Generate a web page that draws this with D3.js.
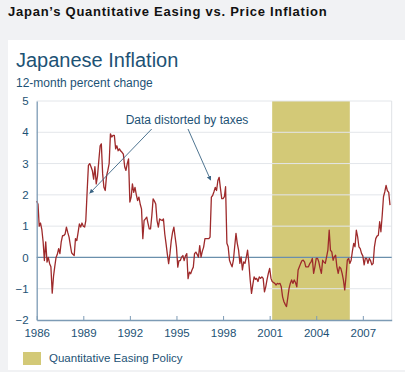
<!DOCTYPE html>
<html>
<head>
<meta charset="utf-8">
<script src="https://cdn.jsdelivr.net/npm/d3@7"></script>
<style>
body { margin: 0; background: #f1f2f4; }
svg text { font-family: "Liberation Sans", Arial, sans-serif; }
</style>
</head>
<body>
<div id="chart"></div>
<script>
// monthly 12-month % change, starting Jan 1986
var startYear = 1986
var inflation = [
  1.8, 1.7, 1.0, 1.1, 0.9, 0.5, -0.1, 0.5, -0.15, 0.0, -0.2, -0.3,
  -1.14, -0.6, -0.3, 0.0, 0.1, 0.28, 0.12, 0.5, 0.7, 0.7, 0.75, 0.97,
  0.8, 0.65, 0.4, 0.15, 0.1, 0.06, 0.6, 0.54, 0.8, 1.07, 0.97, 1.1,
  1.0, 0.97, 1.18, 2.1, 2.94, 3.0, 2.9, 2.78, 2.5, 2.9, 2.35, 2.6,
  3.1, 3.57, 3.63, 2.67, 2.24, 2.14, 2.6, 2.78, 3.0, 3.95, 3.85, 3.9,
  3.9, 3.47, 3.57, 3.41, 3.47, 3.4, 3.36, 3.3, 2.9, 2.78, 3.0, 3.15,
  1.77, 1.93, 2.35, 2.08, 2.24, 2.0, 1.82, 1.93, 1.7, 1.55, 0.6, 1.18,
  1.23, 1.29, 1.1, 0.91, 0.91, 1.34, 1.87, 1.8, 1.71, 1.18, 0.97, 1.23,
  1.2, 1.18, 1.23, 0.75, 0.44, 0.1, -0.2, 0.12, 0.54, 0.8, 0.97, 0.65,
  0.33, -0.31, -0.1, -0.1, 0.01, 0.06, -0.1, 0.05, 0.12, -0.68, -0.47, -0.52,
  -0.4, -0.31, 0.12, 0.17, 0.1, 0.01, 0.38, 0.01, 0.2, 0.33, 0.6, 0.6,
  0.6, 0.6, 0.65, 1.93, 1.98, 2.1, 2.24, 2.14, 2.46, 2.56, 2.2, 1.88,
  1.88, 1.94, 2.26, 0.45, 0.34, -0.09, -0.2, -0.3, -0.09, 0.34, 0.77, 0.45,
  0.23, -0.19, 0.02, -0.4, -0.14, -0.19, 0.0, 0.23, -0.19, -0.72, -1.15, -0.88,
  -0.62, -0.7, -0.67, -0.77, -0.62, -0.67, -0.62, -0.67, -1.1, -0.94, -0.7, -0.51,
  -0.35, -0.67, -0.77, -0.8, -0.83, -0.88, -0.83, -0.85, -0.83, -0.94, -1.26, -1.41,
  -1.5, -1.57, -1.31, -1.0, -0.83, -0.72, -0.83, -0.72, -0.8, -0.94, -0.4, -0.3,
  -0.19, -0.1, -0.09, -0.14, -0.3, -0.3, -0.3, -0.2, -0.14, -0.03, -0.51, -0.3,
  -0.03, -0.03, -0.14, -0.35, -0.51, -0.09, -0.15, -0.19, 0.02, 0.23, 0.87, 0.23,
  0.18, -0.09, 0.02, 0.07, -0.3, -0.51, -0.3, -0.35, -0.51, -0.72, -1.04, -0.62,
  -0.09, -0.03, -0.19, -0.09, 0.2, 0.45, 0.34, 0.87, 0.66, 0.34, 0.28, 0.13,
  0.05, -0.24, -0.03, -0.03, -0.19, -0.03, -0.1, -0.24, -0.19, 0.34, 0.6, 0.68,
  0.71, 1.14, 0.82, 1.35, 1.94, 2.1, 2.3, 2.13, 2.08, 1.67
]
var yTicks = [-2, -1, 0, 1, 2, 3, 4, 5]
var xTickYears = [1986, 1989, 1992, 1995, 1998, 2001, 2004, 2007]
var qePeriod = [new Date(2001, 2, 1), new Date(2006, 2, 1)]
var notes = [
  {date: new Date(1989, 5, 1), value: 2.05},
  {date: new Date(1997, 2, 15), value: 2.47}
]

var data = inflation.map(function(v, i){ return {date: new Date(startYear, i, 1), value: v} })

var svg = d3.select("#chart")
.append("svg")
.attr("width", 405)
.attr("height", 372)

svg.append("text")
.text("Japan\u2019s Quantitative Easing vs. Price Inflation")
.attr("x", 8)
.attr("y", 16)
.attr("font-size", 13)
.attr("font-weight", "bold")
.attr("letter-spacing", 0.75)
.attr("fill", "#111")

svg.append("rect")
.attr("x", 8).attr("y", 40)
.attr("width", 397).attr("height", 330)
.attr("fill", "#fff")

svg.append("text")
.text("Japanese Inflation")
.attr("x", 16).attr("y", 67)
.attr("font-size", 20)
.attr("fill", "#1d5275")

svg.append("text")
.text("12-month percent change")
.attr("x", 16).attr("y", 87)
.attr("font-size", 12)
.attr("fill", "#1d5275")

var plotL = 36.7, plotR = 391.7, plotT = 101, plotB = 320

var x = d3.scaleTime()
.domain([new Date(1986, 0, 1), new Date(2008, 10, 10)])
.range([plotL, plotR])

var y = d3.scaleLinear()
.domain([-2, 5])
.range([plotB, plotT])

// qe band
svg.append("rect")
.attr("x", x(qePeriod[0]))
.attr("y", plotT)
.attr("width", x(qePeriod[1]) - x(qePeriod[0]))
.attr("height", plotB - plotT)
.attr("fill", "#d3c977")

// grid
svg.append("g").selectAll("line")
.data(yTicks.filter(function(d){ return d != -2 && d != 0 }))
.join("line")
.attr("x1", plotL).attr("x2", plotR)
.attr("y1", function(d){ return y(d) }).attr("y2", function(d){ return y(d) })
.attr("stroke", "#e3e6ea")
.attr("stroke-width", 1)

svg.append("line")
.attr("x1", plotR).attr("x2", plotR).attr("y1", plotT).attr("y2", plotB)
.attr("stroke", "#dfe2e6")

svg.append("line")
.attr("x1", plotL).attr("x2", plotR).attr("y1", y(0)).attr("y2", y(0))
.attr("stroke", "#6a8fac").attr("stroke-width", 1.2)

var line = d3.line()
.x(function(d){ return x(d.date) })
.y(function(d){ return y(d.value) })

svg.append("path")
.datum(data)
.attr("d", line)
.attr("fill", "none")
.attr("stroke", "#9e2a2b")
.attr("stroke-width", 1.3)
.attr("stroke-linejoin", "round")

var xAxis = d3.axisBottom(x)
.tickValues(xTickYears.map(function(d){ return new Date(d, 0, 1) }))
.tickFormat(d3.timeFormat("%Y"))
.tickSizeInner(-4).tickSizeOuter(0).tickPadding(9)

var yAxis = d3.axisLeft(y)
.tickValues(yTicks)
.tickFormat(d3.format("d"))
.tickSize(0).tickPadding(8)

var gx = svg.append("g").attr("transform", "translate(0," + plotB + ")").call(xAxis)
var gy = svg.append("g").attr("transform", "translate(" + plotL + ",0)").call(yAxis)

;[gx, gy].forEach(function(g){
  g.select(".domain").attr("stroke", "#7d9bb5").attr("stroke-width", 1.3)
  g.selectAll(".tick line").attr("stroke", "#7d9bb5")
  g.selectAll(".tick text").attr("fill", "#1d5275").attr("font-size", 11.5)
    .attr("font-family", "Liberation Sans, Arial, sans-serif")
})

// annotation
svg.append("defs").append("marker")
.attr("id", "arr")
.attr("viewBox", "0 0 10 10")
.attr("refX", 9).attr("refY", 5)
.attr("markerWidth", 5).attr("markerHeight", 5)
.attr("orient", "auto")
.append("path").attr("d", "M0,0L10,5L0,10z").attr("fill", "#3b6585")

svg.append("text")
.text("Data distorted by taxes")
.attr("x", 187).attr("y", 124)
.attr("text-anchor", "middle")
.attr("font-size", 12)
.attr("fill", "#1d5275")

var starts = [[151.7, 129], [188, 129]]
svg.selectAll(".arrow")
.data(notes)
.join("line")
.attr("class", "arrow")
.attr("x1", function(d, i){ return starts[i][0] })
.attr("y1", function(d, i){ return starts[i][1] })
.attr("x2", function(d){ return x(d.date) })
.attr("y2", function(d){ return y(d.value) })
.attr("stroke", "#3b6585")
.attr("stroke-width", 0.9)
.attr("marker-end", "url(#arr)")

// legend
svg.append("rect")
.attr("x", 23).attr("y", 352)
.attr("width", 18).attr("height", 13)
.attr("fill", "#d3c977")

svg.append("text")
.text("Quantitative Easing Policy")
.attr("x", 49).attr("y", 362)
.attr("font-size", 11.5)
.attr("fill", "#1d5275")
</script>
</body>
</html>
